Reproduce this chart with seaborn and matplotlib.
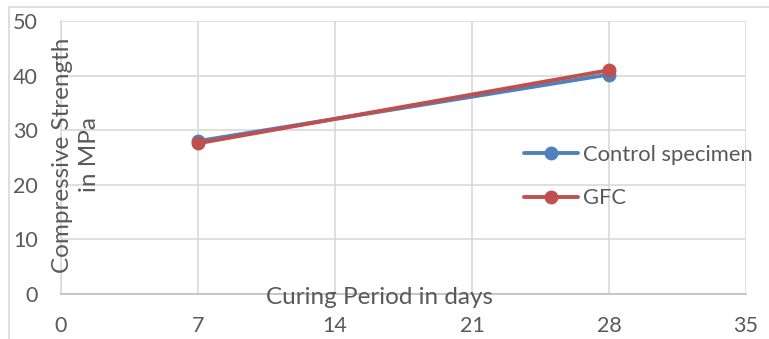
import matplotlib
matplotlib.use("Agg")
import matplotlib.pyplot as plt
import seaborn as sns
import pandas as pd
from matplotlib.lines import Line2D
from matplotlib.patches import Rectangle

days = [7, 28]
control = [28.0, 40.2]
gfc = [27.6, 41.0]
series_names = ["Control specimen", "GFC"]
x_ticks = [0, 7, 14, 21, 28, 35]
y_ticks = [0, 10, 20, 30, 40, 50]

df = pd.DataFrame({
    "days": days * 2,
    "strength": control + gfc,
    "series": [series_names[0]] * len(days) + [series_names[1]] * len(days),
})

sns.set_style("white")
plt.rcParams["font.family"] = ["Lato", "DejaVu Sans"]

W, H = 769, 339
fig = plt.figure(figsize=(W / 100, H / 100), dpi=100)
ax = fig.add_axes([61 / W, 1 - 294 / H, (746 - 61) / W, (294 - 21) / H])

colors = {"Control specimen": "#4F81BD", "GFC": "#C0504D"}
sns.lineplot(data=df, x="days", y="strength", hue="series", palette=colors,
             marker="o", markersize=10, linewidth=2.8, markeredgewidth=0,
             legend=False, ax=ax)

ax.set_xlim(0, 35)
ax.set_ylim(0, 50)
ax.set_xticks(x_ticks)
ax.set_yticks(y_ticks)
ax.set_xticklabels([str(t) for t in x_ticks])
ax.set_yticklabels([str(t) for t in y_ticks])
ax.grid(True, color="#D9D9D9", linewidth=1.2)
ax.set_axisbelow(True)
for s in ["top", "right"]:
    ax.spines[s].set_visible(False)
ax.spines["left"].set_color("#D9D9D9")
ax.spines["bottom"].set_color("#BFBFBF")
ax.spines["left"].set_linewidth(1.2)
ax.spines["bottom"].set_linewidth(1.2)
ax.tick_params(axis="both", length=0, labelsize=15.5, labelcolor="#595959")
ax.tick_params(axis="x", pad=16)
ax.tick_params(axis="y", pad=16.5)
ax.set_xlabel("")
ax.set_ylabel("")

# axis titles
fig.text(380 / W, 1 - 298 / H, "Curing Period in days", ha="center", va="center",
         fontsize=17.5, color="#595959")
fig.text(76 / W, 1 - 155 / H, "Compressive Strength\nin MPa", ha="center", va="center",
         rotation=90, fontsize=17.5, color="#595959", multialignment="center",
         linespacing=1.4)

handles = [Line2D([0], [0], color=colors[n], lw=2.8, marker="o", markersize=10,
                  markeredgewidth=0) for n in series_names]
leg = fig.legend(handles, series_names, loc="upper left",
                 bbox_to_anchor=(504 / W, 1 - 125 / H), frameon=False,
                 fontsize=15.8, labelcolor="#595959", handlelength=2.45,
                 handletextpad=0.25, labelspacing=1.07)

# outer chart border
fig.patches.append(Rectangle((9 / W, -0.1), 1.2, 1 - 7 / H + 0.1,
                             transform=fig.transFigure, fill=False,
                             edgecolor="#D9D9D9", linewidth=1.2))

fig.savefig("out.png", dpi=100)
